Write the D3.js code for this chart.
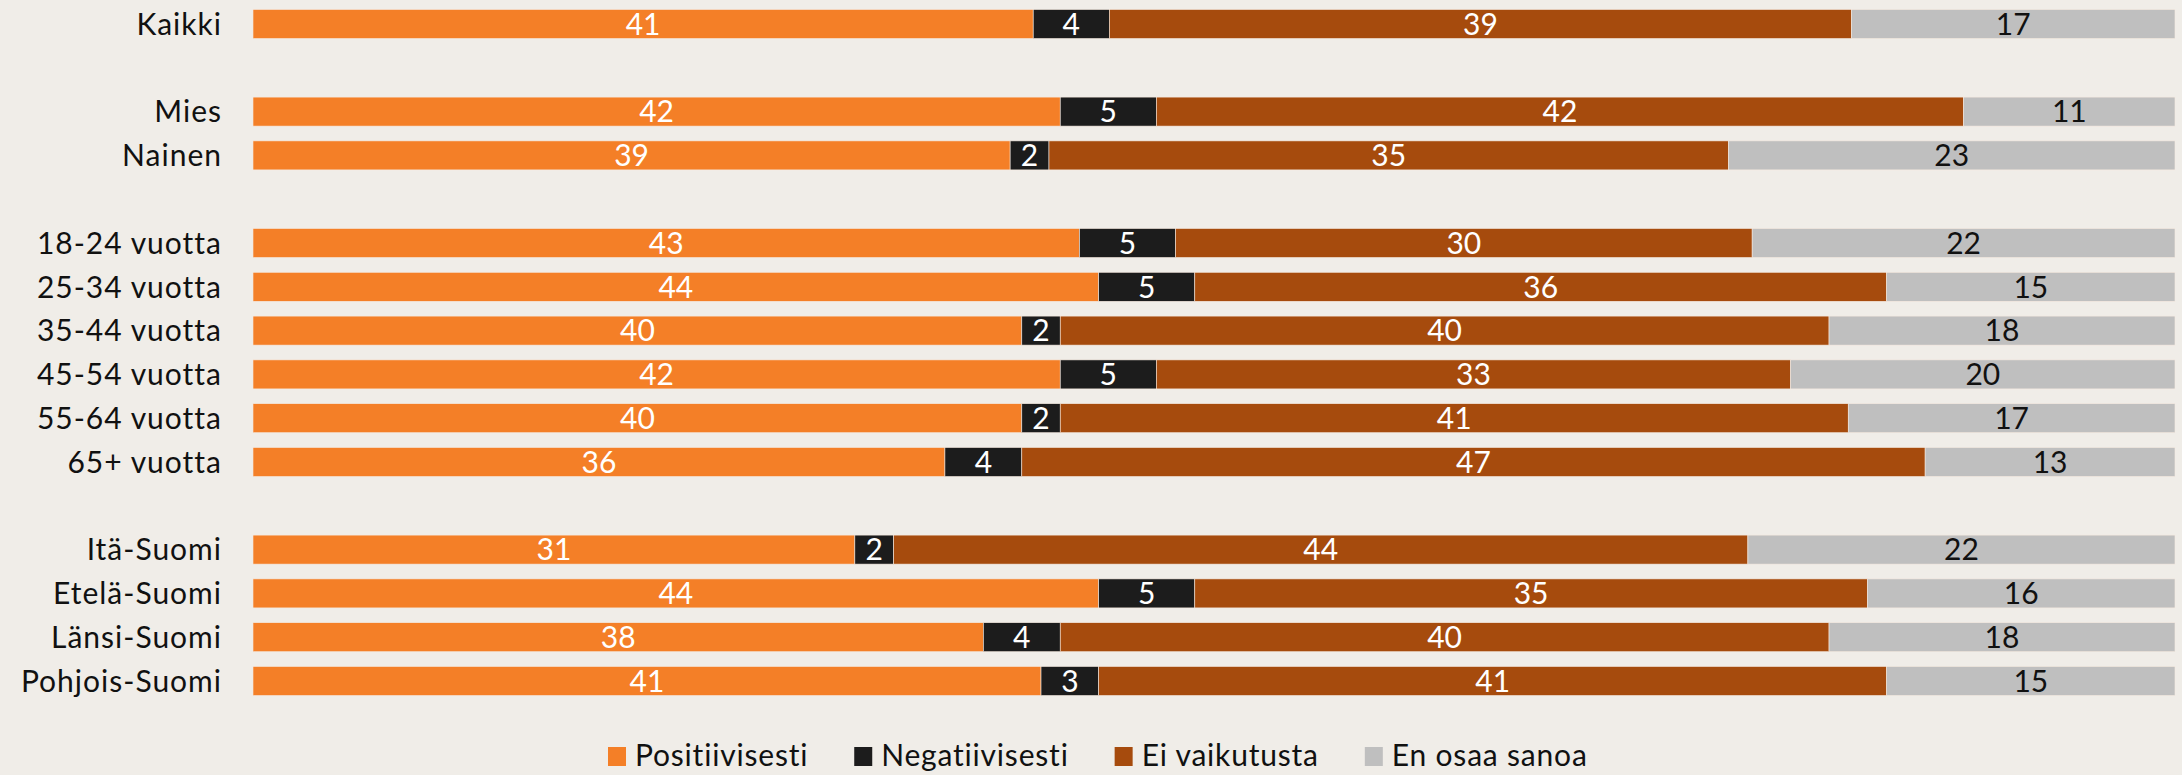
<!DOCTYPE html>
<html>
<head>
<meta charset="utf-8">
<script src="https://cdn.jsdelivr.net/npm/d3@7"></script>
<style>
  body { margin: 0; background: #f0ede8; }
  svg { display: block; }
  .cat { font-family: Lato, "Open Sans", sans-serif; font-size: 30px; letter-spacing: 1px; fill: #111; }
  .val { font-family: Lato, "Open Sans", sans-serif; font-size: 30px; }
  .leg { font-family: Lato, "Open Sans", sans-serif; font-size: 30px; letter-spacing: 0.8px; fill: #111; }
</style>
</head>
<body>
<div id="chart"></div>
<script>
// rows, "" = empty spacer row
var categories = ["Kaikki", "", "Mies", "Nainen", "", "18-24 vuotta", "25-34 vuotta",
  "35-44 vuotta", "45-54 vuotta", "55-64 vuotta", "65+ vuotta", "",
  "Itä-Suomi", "Etelä-Suomi", "Länsi-Suomi", "Pohjois-Suomi"];

var series = ["Positiivisesti", "Negatiivisesti", "Ei vaikutusta", "En osaa sanoa"];

var positiivisesti = [41, null, 42, 39, null, 43, 44, 40, 42, 40, 36, null, 31, 44, 38, 41];
var negatiivisesti = [4, null, 5, 2, null, 5, 5, 2, 5, 2, 4, null, 2, 5, 4, 3];
var eiVaikutusta   = [39, null, 42, 35, null, 30, 36, 40, 33, 41, 47, null, 44, 35, 40, 41];
var enOsaaSanoa    = [17, null, 11, 23, null, 22, 15, 18, 20, 17, 13, null, 22, 16, 18, 15];

var colors = ["#f47f27", "#1c1c1c", "#a64b0d", "#bfbfbf"];
var textColors = ["#fff", "#fff", "#fff", "#111"];

var width = 2182, height = 775;
var margin = {top: 9.5, right: 7, left: 253};

var svg = d3.select("#chart").append("svg")
    .attr("width", width)
    .attr("height", height);

var data = categories.map(function(c, i) {
  return {
    cat: c,
    idx: i,
    "Positiivisesti": positiivisesti[i] || 0,
    "Negatiivisesti": negatiivisesti[i] || 0,
    "Ei vaikutusta": eiVaikutusta[i] || 0,
    "En osaa sanoa": enOsaaSanoa[i] || 0
  };
});

var rows = data.filter(function(d) { return d.cat !== ""; });

// each row drawn as share of its own total
var stack = d3.stack().keys(series).offset(d3.stackOffsetExpand);
var stacked = stack(rows);

var x = d3.scaleLinear()
    .domain([0, 1])
    .range([margin.left, width - margin.right]);

var y = d3.scaleBand()
    .domain(d3.range(categories.length))
    .range([margin.top, 695.5])
    .paddingInner(0.338)
    .paddingOuter(0);

var g = svg.append("g");

var layer = g.selectAll("g.layer")
    .data(stacked)
  .enter().append("g")
    .attr("class", "layer")
    .attr("fill", function(d, i) { return colors[i]; });

layer.selectAll("rect")
    .data(function(d) { return d; })
  .enter().append("rect")
    .attr("x", function(d) { return x(d[0]); })
    .attr("width", function(d) { return x(d[1]) - x(d[0]); })
    .attr("y", function(d) { return y(d.data.idx); })
    .attr("height", y.bandwidth())
    .attr("stroke", "#f6e9df")
    .attr("stroke-width", 0.6);

layer.selectAll("text")
    .data(function(d, i) { return d.map(function(p) { p.s = i; return p; }); })
  .enter().append("text")
    .attr("class", "val")
    .attr("x", function(d) { return (x(d[0]) + x(d[1])) / 2; })
    .attr("y", function(d) { return y(d.data.idx) + y.bandwidth() / 2; })
    .attr("dy", "0.36em")
    .attr("text-anchor", "middle")
    .style("fill", function(d) { return textColors[d.s]; })
    .text(function(d) { return d.data[series[d.s]]; });

g.selectAll("text.cat")
    .data(rows)
  .enter().append("text")
    .attr("class", "cat")
    .attr("x", 222)
    .attr("y", function(d) { return y(d.idx) + y.bandwidth() / 2; })
    .attr("dy", "0.36em")
    .attr("text-anchor", "end")
    .text(function(d) { return d.cat; });

// legend
var legend = svg.append("g").attr("transform", "translate(608,747)");
var lx = 0;
series.forEach(function(s, i) {
  var item = legend.append("g").attr("transform", "translate(" + lx + ",0)");
  item.append("rect")
      .attr("width", 18)
      .attr("height", 19)
      .style("fill", colors[i]);
  var t = item.append("text")
      .attr("class", "leg")
      .attr("x", 27)
      .attr("y", 19)
      .text(s);
  lx += 27 + t.node().getComputedTextLength() + 46;
});
</script>
</body>
</html>
